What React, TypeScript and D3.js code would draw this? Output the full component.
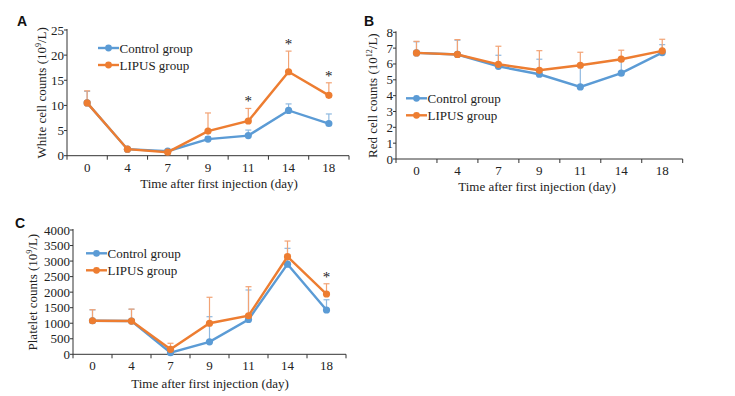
import React from "react";
import * as d3 from "d3";

const days = ["0", "4", "7", "9", "11", "14", "18"];

const wbcControl = [10.5, 1.3, 0.9, 3.3, 4.0, 9.0, 6.4];
const wbcControlErr = [2.3, 0.2, 0.2, 0.5, 1.1, 1.3, 1.9];
const wbcLipus = [10.5, 1.3, 0.7, 4.9, 6.9, 16.7, 12.0];
const wbcLipusErr = [2.4, 0.2, 0.2, 3.6, 2.5, 4.1, 2.5];
const wbcStars = ["11", "14", "18"];
const wbcTicks = [0, 5, 10, 15, 20, 25];

const rbcControl = [6.7, 6.6, 5.85, 5.35, 4.55, 5.42, 6.72];
const rbcControlErr = [0.7, 0.9, 0.7, 0.95, 1.35, 0.85, 0.5];
const rbcLipus = [6.7, 6.6, 5.98, 5.6, 5.92, 6.3, 6.83];
const rbcLipusErr = [0.73, 0.94, 1.14, 1.24, 0.82, 0.57, 0.73];
const rbcStars: string[] = [];
const rbcTicks = [0, 1, 2, 3, 4, 5, 6, 7, 8];

const pltControl = [1080, 1070, 50, 400, 1120, 2900, 1425];
const pltControlErr = [350, 380, 100, 810, 950, 510, 330];
const pltLipus = [1080, 1070, 160, 1000, 1240, 3140, 1940];
const pltLipusErr = [355, 385, 195, 835, 935, 505, 330];
const pltStars = ["18"];
const pltTicks = [0, 500, 1000, 1500, 2000, 2500, 3000, 3500, 4000];

const BLUE = "#5b9bd5";
const ORANGE = "#ed7d31";
const AXIS = "#333";
const SERIF = "'Liberation Serif', 'Times New Roman', serif";
const SANS = "'Liberation Sans', Arial, sans-serif";

type PanelProps = {
  letter: string;
  letterX: number;
  letterY: number;
  x0: number;
  x1: number;
  yBottom: number;
  yTop: number;
  yMax: number;
  ticks: number[];
  control: number[];
  controlErr: number[];
  lipus: number[];
  lipusErr: number[];
  stars: string[];
  yLabel: string;
  ySup: string;
  yLabelX: number;
  xLabelX: number;
  xLabelY: number;
  tickLabelY: number;
  legendX: number;
  legendY: number;
};

function Panel(p: PanelProps) {
  const x = d3.scaleBand<string>().domain(days).range([p.x0, p.x1]);
  const y = d3.scaleLinear().domain([0, p.yMax]).range([p.yBottom, p.yTop]);
  const cx = (d: string) => (x(d) as number) + x.bandwidth() / 2;
  const line = d3
    .line<number>()
    .x((_, i) => cx(days[i]))
    .y((v) => y(v));

  const series = [
    { vals: p.control, err: p.controlErr, color: BLUE, errColor: "#8fb9e0" },
    { vals: p.lipus, err: p.lipusErr, color: ORANGE, errColor: "#f2a375" },
  ];
  const boundaries = days.map((d) => x(d) as number).concat([p.x1]);
  const yMid = (p.yBottom + p.yTop) / 2;

  return (
    <g>
      <text x={p.letterX} y={p.letterY} fontFamily={SANS} fontWeight="bold" fontSize={14} fill="#111">
        {p.letter}
      </text>
      {/* y axis */}
      <line x1={p.x0} x2={p.x0} y1={p.yTop - 1} y2={p.yBottom} stroke={AXIS} strokeWidth={1} />
      {p.ticks.map((t) => (
        <g key={t}>
          <line x1={p.x0 - 3} x2={p.x0} y1={y(t)} y2={y(t)} stroke={AXIS} />
          <text x={p.x0 - 3} y={y(t) + 4.5} textAnchor="end" fontFamily={SERIF} fontSize={13} fill="#222">
            {t}
          </text>
        </g>
      ))}
      {/* x axis */}
      <line x1={p.x0} x2={p.x1} y1={p.yBottom} y2={p.yBottom} stroke={AXIS} strokeWidth={1} />
      {boundaries.map((b, i) => (
        <line key={i} x1={b} x2={b} y1={p.yBottom} y2={p.yBottom + 4} stroke={AXIS} />
      ))}
      {days.map((d) => (
        <text key={d} x={cx(d)} y={p.tickLabelY} textAnchor="middle" fontFamily={SERIF} fontSize={13} fill="#222">
          {d}
        </text>
      ))}
      <text x={p.xLabelX} y={p.xLabelY} textAnchor="middle" fontFamily={SERIF} fontSize={13} fill="#222">
        Time after first injection (day)
      </text>
      <text
        transform={`translate(${p.yLabelX},${yMid}) rotate(-90)`}
        textAnchor="middle"
        fontFamily={SERIF}
        fontSize={13}
        fill="#222"
      >
        {p.yLabel} (10
        <tspan fontSize={8} dy={-5}>
          {p.ySup}
        </tspan>
        <tspan dy={5}>/L)</tspan>
      </text>
      {/* series */}
      {series.map((s, si) => (
        <g key={si}>
          {s.vals.map((v, i) => {
            const top = y(v + s.err[i]);
            const xc = cx(days[i]);
            return (
              <g key={i}>
                <line x1={xc} x2={xc} y1={y(v)} y2={top} stroke={s.errColor} strokeWidth={1.2} />
                <line x1={xc - 3} x2={xc + 3} y1={top} y2={top} stroke={s.errColor} strokeWidth={1.2} />
              </g>
            );
          })}
        </g>
      ))}
      {series.map((s, si) => (
        <g key={"l" + si}>
          <path d={line(s.vals) || ""} fill="none" stroke={s.color} strokeWidth={2.4} />
          {s.vals.map((v, i) => (
            <circle key={i} cx={cx(days[i])} cy={y(v)} r={3.6} fill={s.color} />
          ))}
        </g>
      ))}
      {p.stars.map((d) => {
        const i = days.indexOf(d);
        const top = y(p.lipus[i] + p.lipusErr[i]);
        return (
          <text key={d} x={cx(d)} y={top - 2} textAnchor="middle" fontFamily={SERIF} fontSize={15} fill="#222">
            *
          </text>
        );
      })}
      {/* legend */}
      {[
        { label: "Control group", color: BLUE },
        { label: "LIPUS group", color: ORANGE },
      ].map((l, i) => (
        <g key={l.label} transform={`translate(${p.legendX},${p.legendY + i * 17})`}>
          <line x1={0} x2={21} y1={0} y2={0} stroke={l.color} strokeWidth={2.4} />
          <circle cx={10.5} cy={0} r={3.4} fill={l.color} />
          <text x={21.5} y={4.5} fontFamily={SERIF} fontSize={13} fill="#222">
            {l.label}
          </text>
        </g>
      ))}
    </g>
  );
}

export default function App() {
  return (
    <svg width={735} height={396} style={{ position: "absolute", left: 0, top: 0, background: "#fff" }}>
      <rect width={735} height={396} fill="#fff" />
      <Panel
        letter="A"
        letterX={17}
        letterY={26}
        x0={67}
        x1={349}
        yBottom={155.7}
        yTop={30}
        yMax={25}
        ticks={wbcTicks}
        control={wbcControl}
        controlErr={wbcControlErr}
        lipus={wbcLipus}
        lipusErr={wbcLipusErr}
        stars={wbcStars}
        yLabel="White cell counts"
        ySup="9"
        yLabelX={46}
        xLabelX={219}
        xLabelY={188}
        tickLabelY={172}
        legendX={98}
        legendY={48}
      />
      <Panel
        letter="B"
        letterX={364}
        letterY={26}
        x0={396}
        x1={682.7}
        yBottom={159}
        yTop={32.3}
        yMax={8}
        ticks={rbcTicks}
        control={rbcControl}
        controlErr={rbcControlErr}
        lipus={rbcLipus}
        lipusErr={rbcLipusErr}
        stars={rbcStars}
        yLabel="Red cell counts"
        ySup="12"
        yLabelX={377}
        xLabelX={537}
        xLabelY={191}
        tickLabelY={174.5}
        legendX={406}
        legendY={98.3}
      />
      <Panel
        letter="C"
        letterX={15}
        letterY={228}
        x0={73}
        x1={346}
        yBottom={354.3}
        yTop={230}
        yMax={4000}
        ticks={pltTicks}
        control={pltControl}
        controlErr={pltControlErr}
        lipus={pltLipus}
        lipusErr={pltLipusErr}
        stars={pltStars}
        yLabel="Platelet counts"
        ySup="9"
        yLabelX={37}
        xLabelX={210}
        xLabelY={388}
        tickLabelY={369.5}
        legendX={86}
        legendY={253.3}
      />
    </svg>
  );
}
